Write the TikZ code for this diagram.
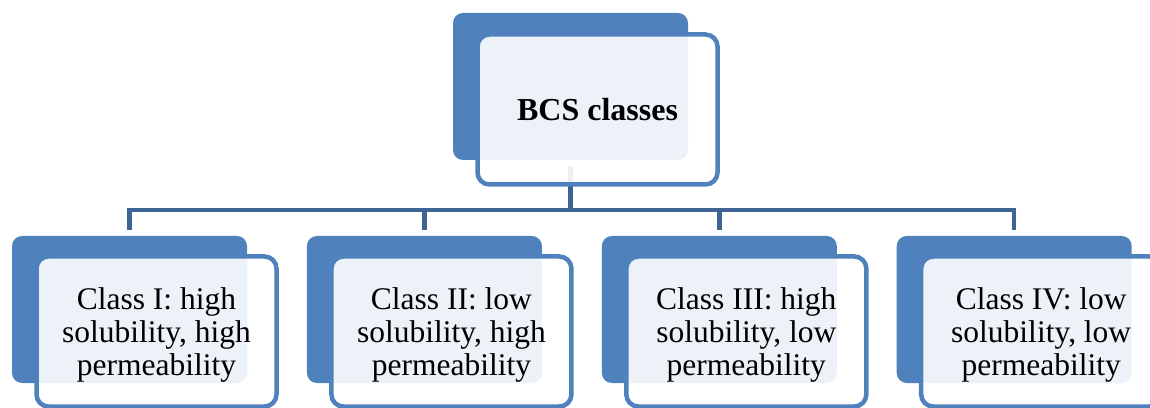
\documentclass[tikz,border=0pt]{standalone}
\usepackage{fontspec}
\setmainfont{Liberation Serif}
\usepackage{tikz}
\usetikzlibrary{positioning}
\definecolor{accent}{RGB}{79,129,189}
\definecolor{linkblue}{RGB}{62,100,148}
\tikzstyle{back} = [rectangle, rounded corners=10pt, fill=accent, minimum width=235pt, minimum height=147pt]
\tikzstyle{link} = [draw=linkblue, line width=4.5pt, shorten <=6pt, shorten >=6pt]

\begin{document}
\begin{tikzpicture}[
        x=1pt, y=1pt,
        node distance=59.5pt,
        front/.style={rectangle, rounded corners=12pt, draw=accent, line width=4.5pt, fill=white, fill opacity=0.9, text opacity=1, minimum width=240pt, minimum height=150pt, align=center, font=\fontsize{31.5}{33}\selectfont},
        leaf/.style={front, text depth=0pt}
        ]
        \clip (0,0) rectangle (1150,407);

        \node[back] (bcs) at (570.5,320.5) {};
        \node[back] (cone) at (129.5,97.5) {};
        \node[back, right=of cone] (ctwo) {};
        \node[back, right=of ctwo] (cthree) {};
        \node[back, right=of cthree] (cfour) {};

        \draw[link] (bcs.south) -- ++(0,-50) -| (cone.north);
        \draw[link] (bcs.south) -- ++(0,-50) -| (ctwo.north);
        \draw[link] (bcs.south) -- ++(0,-50) -| (cthree.north);
        \draw[link] (bcs.south) -- ++(0,-50) -| (cfour.north);

        \node[front, font=\bfseries\fontsize{32}{33}\selectfont] (bcstext) at ([shift={(27,-23)}]bcs.center) {BCS classes};
        \node[leaf] (conetext) at ([shift={(27,-22)}]cone.center) {Class I: high\\ solubility, high\\ permeability};
        \node[leaf] (ctwotext) at ([shift={(27,-22)}]ctwo.center) {Class II: low\\ solubility, high\\ permeability};
        \node[leaf] (cthreetext) at ([shift={(27,-22)}]cthree.center) {Class III: high\\ solubility, low\\ permeability};
        \node[leaf] (cfourtext) at ([shift={(27,-22)}]cfour.center) {Class IV: low\\ solubility, low\\ permeability};

    \end{tikzpicture}
\end{document}
